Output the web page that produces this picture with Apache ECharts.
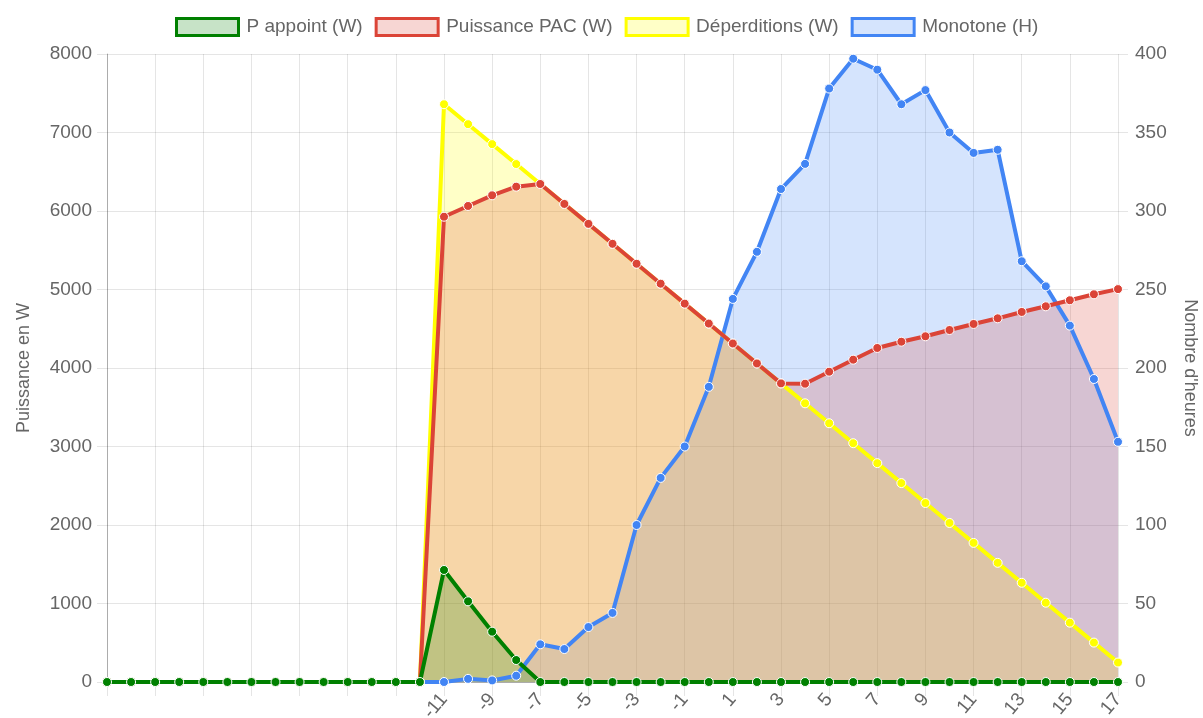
<!DOCTYPE html>
<html>
<head>
<meta charset="utf-8">
<script src="https://cdn.jsdelivr.net/npm/echarts@6/dist/echarts.min.js"></script>
<style>
  html, body { margin: 0; padding: 0; background: #fff; }
  #chart { width: 1203px; height: 718px; }
</style>
</head>
<body>
<div id="chart"></div>
<script>
// temperatures (°C); the first 14 have no label
var categories = ["", "", "", "", "", "", "", "", "", "", "", "", "", "",
  "-11", "-10", "-9", "-8", "-7", "-6", "-5", "-4", "-3", "-2", "-1", "0", "1", "2", "3",
  "4", "5", "6", "7", "8", "9", "10", "11", "12", "13", "14", "15", "16", "17"];

var pAppoint = [0, 0, 0, 0, 0, 0, 0, 0, 0, 0, 0, 0, 0, 0,
  1427, 1028, 641, 280, 0, 0, 0, 0, 0, 0, 0, 0, 0, 0, 0,
  0, 0, 0, 0, 0, 0, 0, 0, 0, 0, 0, 0, 0, 0];

var puissancePac = [0, 0, 0, 0, 0, 0, 0, 0, 0, 0, 0, 0, 0, 0,
  5927, 6064, 6200, 6310, 6344, 6090, 5836, 5582, 5328, 5074, 4820, 4566, 4312, 4058, 3804,
  3800, 3953, 4106, 4255, 4335, 4404, 4484, 4561, 4633, 4714, 4786, 4863, 4939, 5005];

var deperditions = [0, 0, 0, 0, 0, 0, 0, 0, 0, 0, 0, 0, 0, 0,
  7360, 7106, 6852, 6598, 6344, 6090, 5836, 5582, 5328, 5074, 4820, 4566, 4312, 4058, 3804,
  3550, 3296, 3042, 2788, 2534, 2280, 2026, 1772, 1518, 1264, 1010, 756, 502, 248];

var monotone = [0, 0, 0, 0, 0, 0, 0, 0, 0, 0, 0, 0, 0, 0,
  0, 2, 1, 4, 24, 21, 35, 44, 100, 130, 150, 188, 244, 274, 314,
  330, 378, 397, 390, 368, 377, 350, 337, 339, 268, 252, 227, 193, 153];

var chart = echarts.init(document.getElementById("chart"));
var font = "'Liberation Sans', Arial, sans-serif";
var grey = "#666";
var fs = 19;

// fills go under every line, like chart.js does
function areaSerie(name, data, fill, yIdx, z) {
  return {
    name: name,
    type: "line",
    yAxisIndex: yIdx,
    data: data,
    z: z,
    silent: true,
    showSymbol: false,
    lineStyle: { width: 0, opacity: 0 },
    areaStyle: { color: fill, origin: "start", opacity: 1 },
    animation: false
  };
}

function lineSerie(name, data, color, yIdx, z) {
  return {
    name: name,
    type: "line",
    yAxisIndex: yIdx,
    data: data,
    z: z,
    symbol: "circle",
    symbolSize: 9,
    showSymbol: true,
    lineStyle: { color: color, width: 4 },
    itemStyle: { color: color, borderColor: "#fff", borderWidth: 1 },
    animation: false
  };
}

chart.setOption({
  textStyle: { fontFamily: font },
  legend: {
    top: 12,
    left: 170,
    icon: "rect",
    itemWidth: 62,
    itemHeight: 17,
    itemGap: 12,
    textStyle: { color: grey, fontSize: fs, padding: [0, 0, 0, 3] },
    data: [
      { name: "P appoint (W)", itemStyle: { color: "rgba(0,128,0,0.22)", borderColor: "#008000", borderWidth: 3 } },
      { name: "Puissance PAC (W)", itemStyle: { color: "rgba(219,68,55,0.22)", borderColor: "#db4437", borderWidth: 3 } },
      { name: "Déperditions (W)", itemStyle: { color: "rgba(255,255,0,0.22)", borderColor: "#ffff00", borderWidth: 3 } },
      { name: "Monotone (H)", itemStyle: { color: "rgba(66,133,244,0.22)", borderColor: "#4285f4", borderWidth: 3 } }
    ]
  },
  grid: { left: 107, right: 85, top: 54, bottom: 36, containLabel: false, outerBoundsMode: "none" },
  xAxis: {
    type: "category",
    data: categories,
    boundaryGap: false,
    axisLine: { show: true, lineStyle: { color: "rgba(0,0,0,0.25)" } },
    axisTick: { show: true, interval: 1, length: 14, lineStyle: { color: "rgba(0,0,0,0.1)" } },
    axisLabel: { interval: 1, rotate: 50, color: grey, fontSize: fs, margin: 14 },
    splitLine: { show: true, interval: 1, lineStyle: { color: "rgba(0,0,0,0.1)" } }
  },
  yAxis: [
    {
      type: "value",
      min: 0, max: 8000, interval: 1000,
      name: "Puissance en W",
      nameLocation: "middle",
      nameGap: 74,
      nameTextStyle: { color: grey, fontSize: 18 },
      axisLine: { show: true, lineStyle: { color: "rgba(0,0,0,0.25)" } },
      axisTick: { show: true, length: 10, lineStyle: { color: "rgba(0,0,0,0.1)" } },
      axisLabel: { color: grey, fontSize: fs, margin: 15, formatter: function (v) { return String(v); } },
      splitLine: { show: true, lineStyle: { color: "rgba(0,0,0,0.1)" } }
    },
    {
      type: "value",
      min: 0, max: 400, interval: 50,
      name: "Nombre d'heures",
      nameLocation: "middle",
      nameRotate: -90,
      nameGap: 63,
      nameTextStyle: { color: grey, fontSize: 18 },
      axisLine: { show: false },
      axisTick: { show: true, length: 10, lineStyle: { color: "rgba(0,0,0,0.1)" } },
      axisLabel: { color: grey, fontSize: fs, margin: 17 },
      splitLine: { show: false }
    }
  ],
  series: [
    areaSerie("Monotone (H)", monotone, "rgba(66,133,244,0.22)", 1, 1),
    areaSerie("Déperditions (W)", deperditions, "rgba(255,255,0,0.22)", 0, 1),
    areaSerie("Puissance PAC (W)", puissancePac, "rgba(219,68,55,0.22)", 0, 1),
    areaSerie("P appoint (W)", pAppoint, "rgba(0,128,0,0.22)", 0, 1),
    lineSerie("Monotone (H)", monotone, "#4285f4", 1, 3),
    lineSerie("Déperditions (W)", deperditions, "#ffff00", 0, 4),
    lineSerie("Puissance PAC (W)", puissancePac, "#db4437", 0, 5),
    lineSerie("P appoint (W)", pAppoint, "#008000", 0, 6)
  ]
});
</script>
</body>
</html>
